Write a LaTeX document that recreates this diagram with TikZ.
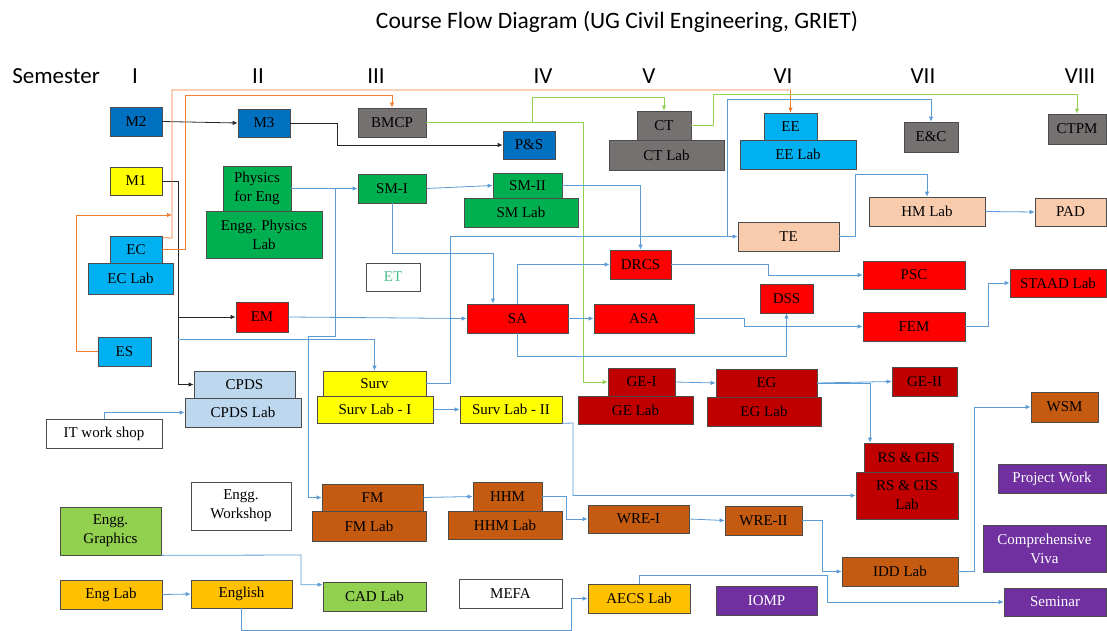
\documentclass[tikz,border=0pt]{standalone}
\usepackage{fontspec}
\setmainfont{Liberation Serif}
\newfontfamily\calib{Carlito}
\usetikzlibrary{arrows.meta}
\definecolor{cblue}{HTML}{0070C0}
\definecolor{ccyan}{HTML}{00B0F0}
\definecolor{cyel}{HTML}{FFFF00}
\definecolor{cgreen}{HTML}{00B050}
\definecolor{clgreen}{HTML}{92D050}
\definecolor{cred}{HTML}{FF0000}
\definecolor{cdred}{HTML}{C00000}
\definecolor{clblue}{HTML}{BDD7EE}
\definecolor{cbrown}{HTML}{C55A11}
\definecolor{corange}{HTML}{FFC000}
\definecolor{cpurple}{HTML}{7030A0}
\definecolor{cgray}{HTML}{767171}
\definecolor{cpeach}{HTML}{F8CBAD}
\definecolor{cmint}{HTML}{4CC08A}
\definecolor{wblue}{HTML}{5B9BD5}
\definecolor{worange}{HTML}{ED7D31}
\definecolor{wgreen}{HTML}{92D050}
\definecolor{wblack}{HTML}{262626}
\begin{document}
\begin{tikzpicture}[x=1pt,y=-1pt,
  box/.style={draw=black!70, line width=0.7pt, inner sep=0pt, align=center, font=\fontsize{15}{19}\selectfont},
  sz/.style 2 args={minimum width=#1pt, minimum height=#2pt},
  semlab/.style={font=\calib\fontsize{23}{27}\selectfont},
  wire/.style={line width=0.8pt, -{Latex[length=5pt,width=4.5pt]}},
  kw/.style={wire, draw=wblack},
  bw/.style={wire, draw=wblue},
  ow/.style={wire, draw=worange},
  gw/.style={wire, draw=wgreen}]
\useasboundingbox (0,0) rectangle (1107,631);
\node[semlab, font=\calib\fontsize{23.5}{27}\selectfont] (title) at (617,22) {Course Flow Diagram (UG Civil Engineering, GRIET)};
\node[semlab] (sem) at (56,76) {Semester};
\node[semlab] (semI) at (135,76) {I};
\node[semlab] (semII) at (258,76) {II};
\node[semlab] (semIII) at (376,76) {III};
\node[semlab] (semIV) at (543,76) {IV};
\node[semlab] (semV) at (649,76) {V};
\node[semlab] (semVI) at (783,76) {VI};
\node[semlab] (semVII) at (923,76) {VII};
\node[semlab] (semVIII) at (1080,76) {VIII};

\node[box, fill=cblue, sz={52}{29}] (M2) at (136,121.5) {M2};
\node[box, fill=cblue, sz={52}{28}] (M3) at (264,123) {M3};
\node[box, fill=cyel, sz={52}{28}] (M1) at (136,181) {M1};
\node[box, fill=ccyan, sz={85}{31}] (ECL) at (130.5,278.5) {EC Lab};
\node[box, fill=ccyan, sz={52}{27}] (EC) at (136,249.5) {EC};
\node[box, fill=ccyan, sz={53}{29}] (ES) at (124.5,351.5) {ES};
\node[box, fill=cgreen, sz={116}{47}] (EPL) at (264,234.5) {Engg. Physics\\Lab};
\node[box, fill=cgreen, sz={68}{45}] (PHY) at (257,188.5) {Physics\\for Eng};
\node[box, fill=cred, sz={52}{30}] (EM) at (262,317) {EM};
\node[box, fill=clblue, sz={116}{29}] (CPDSL) at (243,412.5) {CPDS Lab};
\node[box, fill=clblue, sz={101}{27}] (CPDS) at (244.5,384.5) {CPDS};
\node[box, fill=white, sz={116}{29}] (ITW) at (104,433.5) {IT work shop};
\node[box, fill=white, sz={100}{48}] (EWS) at (241,506) {Engg.\\Workshop};
\node[box, fill=clgreen, sz={101}{48}] (EGR) at (110.5,531) {Engg.\\Graphics};
\node[box, fill=corange, sz={102}{29}] (ENL) at (111,594.5) {Eng Lab};
\node[box, fill=corange, sz={101}{28}] (ENG) at (241.5,594) {English};
\node[box, fill=clgreen, sz={103}{29}] (CAD) at (374.5,596.5) {CAD Lab};
\node[box, fill=white, sz={103}{29}] (MEFA) at (510.5,593.5) {MEFA};
\node[box, fill=corange, sz={102}{29}] (AECS) at (639,598.5) {AECS Lab};
\node[box, fill=cbrown, sz={114}{30}] (FML) at (369,526) {FM Lab};
\node[box, fill=cbrown, sz={101}{27}] (FM) at (372.5,497.5) {FM};
\node[box, fill=cbrown, sz={114}{28}] (HHML) at (505,525) {HHM Lab};
\node[box, fill=cbrown, sz={69}{29}] (HHM) at (507.5,496.5) {HHM};
\node[box, fill=cbrown, sz={101}{28}] (WRE1) at (638.5,519) {WRE-I};
\node[box, fill=cbrown, sz={77}{29}] (WRE2) at (763.5,520.5) {WRE-II};
\node[box, fill=cbrown, sz={116}{29}] (IDD) at (900,571.5) {IDD Lab};
\node[box, fill=cpurple, text=white, sz={101}{29}] (IOMP) at (766.5,600.5) {IOMP};
\node[box, fill=cpurple, text=white, sz={102}{28}] (SEM) at (1055,602) {Seminar};
\node[box, fill=cpurple, text=white, sz={123}{47}] (CV) at (1044.5,548.5) {Comprehensive\\Viva};
\node[box, fill=cpurple, text=white, sz={108}{29}] (PW) at (1052,478.5) {Project Work};
\node[box, fill=cdred, sz={102}{47}] (RSL) at (907,495.5) {RS \& GIS\\Lab};
\node[box, fill=cdred, sz={89}{29}] (RS) at (908.5,457.5) {RS \& GIS};
\node[box, fill=cbrown, sz={67}{30}] (WSM) at (1064.5,407) {WSM};
\node[box, fill=cdred, sz={65}{29}] (GE2) at (924.5,381.5) {GE-II};
\node[box, fill=cdred, sz={114}{29}] (EGL) at (764,411.5) {EG Lab};
\node[box, fill=cdred, sz={101}{28}] (EG) at (766.5,383) {EG};
\node[box, fill=cdred, sz={115}{28}] (GEL) at (635.5,410) {GE Lab};
\node[box, fill=cdred, sz={67}{28}] (GE1) at (641.5,382) {GE-I};
\node[box, fill=cred, sz={102}{28}] (PSC) at (914,275) {PSC};
\node[box, fill=cred, sz={53}{29}] (DSS) at (786.5,298.5) {DSS};
\node[box, fill=cred, sz={102}{29}] (FEM) at (914,326.5) {FEM};
\node[box, fill=cred, sz={96}{28}] (STAAD) at (1058,283) {STAAD Lab};
\node[box, fill=cred, sz={101}{29}] (SA) at (517.5,318.5) {SA};
\node[box, fill=cred, sz={100}{29}] (ASA) at (644,318.5) {ASA};
\node[box, fill=cred, sz={61}{29}] (DRCS) at (640.5,264.5) {DRCS};
\node[box, fill=white, text=cmint, sz={54}{28}] (ET) at (393,277) {ET};
\node[box, fill=cyel, sz={116}{27}] (SL1) at (375,409.5) {Surv Lab - I};
\node[box, fill=cyel, sz={103}{25}] (SURV) at (374.5,383.5) {Surv};
\node[box, fill=cyel, sz={102}{27}] (SL2) at (511,409.5) {Surv Lab - II};
\node[box, fill=cgreen, sz={68}{29}] (SM1) at (392,188.5) {SM-I};
\node[box, fill=cgreen, sz={114}{29}] (SML) at (521,212.5) {SM Lab};
\node[box, fill=cgreen, sz={69}{25}] (SM2) at (527.5,185.5) {SM-II};
\node[box, fill=cgray, sz={68}{29}] (BMCP) at (392,122.5) {BMCP};
\node[box, fill=cblue, sz={52}{28}] (PS) at (529,145) {P\&S};
\node[box, fill=cgray, sz={115}{30}] (CTL) at (666.5,155) {CT Lab};
\node[box, fill=cgray, sz={54}{29}] (CT) at (664,125.5) {CT};
\node[box, fill=ccyan, sz={116}{29}] (EEL) at (798,154.5) {EE Lab};
\node[box, fill=ccyan, sz={53}{27}] (EE) at (790.5,126.5) {EE};
\node[box, fill=cgray, sz={54}{30}] (EAC) at (931,137) {E\&C};
\node[box, fill=cgray, sz={58}{30}] (CTPM) at (1077,129) {CTPM};
\node[box, fill=cpeach, sz={101}{29}] (TE) at (788.5,236.5) {TE};
\node[box, fill=cpeach, sz={116}{29}] (HML) at (927,211.5) {HM Lab};
\node[box, fill=cpeach, sz={71}{28}] (PAD) at (1070.5,212) {PAD};

\coordinate (m1s) at (178,339);
\coordinate (ecj) at (172,215);
\draw[kw] (M2.east) -- (M3.west);
\draw[kw] (M3.east) -- (337,123) |- (PS.west);
\draw[kw] (M1.east) -- (178,181) |- (CPDS.west);
\draw[kw] (M1.east) -- (178,181) |- (EM.west);
\draw[bw] (m1s) -| (SURV.north);
\draw[ow] (ES.west) -- (76,351.5) |- (ecj);
\draw[ow] ([yshift=-2pt]EC.north east) -- (172,238) -- (172,90) -| (EE.north);
\draw[ow] (EC.east) -- (185,249.5) -- (185,95) -| (BMCP.north);
\draw[gw] (BMCP.east) -- (532,122.5) -- (532,97) -| (CT.north);
\draw[gw] (BMCP.east) -- (583,122.5) |- (GE1.west);
\draw[gw] (CT.east) -- (713,125.5) -- (713,94) -| (CTPM.north);
\draw[bw] (PHY.east) -- (SM1.west);
\draw[bw] (PHY.east) -- (335,188.5) -- (335,336) -- (308,336) |- (FM.west);
\draw[bw] (SM1.east) -- (SM2.west);
\draw[bw] (SM1.south) |- (493,253) -- (493,253 |- SA.north);
\draw[bw] (SM2.east) -| (DRCS.north);
\draw[bw] (SURV.east) -- (450,383.5) |- (TE.west);
\draw[bw] (SURV.east) -- (450,383.5) |- (727,236.5) -- (727,99) -| (EAC.north);
\draw[bw] (TE.east) -- (855,236.5) -- (855,174) -| (HML.north);
\draw[bw] (HML.east) -- (PAD.west);
\draw[bw] (EM.east) -- (SA.west);
\draw[bw] (SA.east) -- (ASA.west);
\draw[bw] (SA.north) |- (DRCS.west);
\draw[bw] (SA.south) -- (517.5,356) -| (DSS.south);
\draw[bw] (DRCS.east) -- (768,264.5) |- (PSC.west);
\draw[bw] (ASA.east) -- (744,318.5) |- (FEM.west);
\draw[bw] (FEM.east) -- (988,326.5) |- (STAAD.west);
\draw[bw] (GE1.east) -- (EG.west);
\draw[bw] (EG.east) -- (GE2.west);
\draw[bw] (EG.east) -- (870,383) -- (870,383 |- RS.north);
\draw[bw] (SL1.east) -- (SL2.west);
\draw[bw] (SL2.south east) -- (573,423) |- (RSL.west);
\draw[bw] (FM.east) -- (HHM.west);
\draw[bw] (HHM.east) -- (566,496.5) |- (WRE1.west);
\draw[bw] (WRE1.east) -- (WRE2.west);
\draw[bw] (WRE2.east) -- (822,520.5) |- (IDD.west);
\draw[bw] (IDD.east) -- (974,571.5) |- (WSM.west);
\draw[bw] (ITW.north) |- (CPDSL.west);
\draw[bw] (EGR.south east) -- (301,555) |- ([yshift=-3pt]CAD.north west);
\draw[bw] (ENL.east) -- (ENG.west);
\draw[bw] (ENG.south) |- (571,630) |- (AECS.west);
\draw[bw] (AECS.north) |- (827,575) |- (SEM.west);
\end{tikzpicture}
\end{document}
